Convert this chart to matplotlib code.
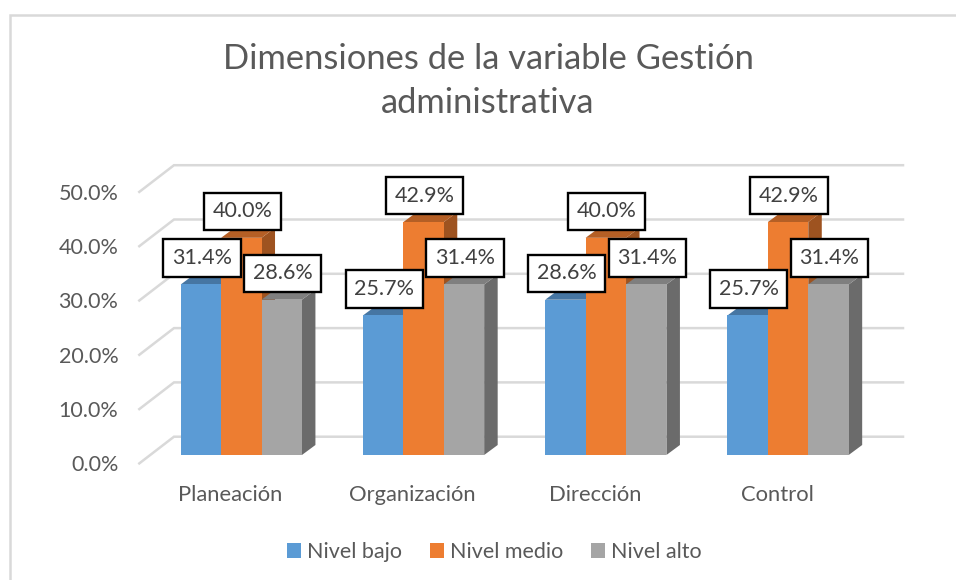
#!/usr/bin/env python
import matplotlib
matplotlib.use("Agg")
import matplotlib.pyplot as plt
from matplotlib.patches import Patch, Polygon, Rectangle

plt.rcParams['font.family'] = ['Lato', 'DejaVu Sans']

categories = ["Planeación", "Organización", "Dirección", "Control"]
series_names = ["Nivel bajo", "Nivel medio", "Nivel alto"]
bajo = [31.4, 25.7, 28.6, 25.7]
medio = [40.0, 42.9, 40.0, 42.9]
alto = [28.6, 31.4, 31.4, 31.4]

fronts = ["#5B9BD5", "#ED7D31", "#A5A5A5"]
tops = ["#4676A3", "#B55F25", "#7F7F7F"]
sides = ["#3F6A93", "#9E5320", "#6B6B6B"]
text_col = "#595959"
grid_col = "#D9D9D9"

W, H = 956, 580
# pixel box of the front edge of the floor/wall
LEFT, RIGHT, BOTTOM, TOP = 139.3, 868.3, 463.4, 191.9
PX_X = (RIGHT - LEFT) / 4.0
PX_Y = (BOTTOM - TOP) / 50.0


def dx(px):
    return px / PX_X


def dy(px):
    return px / PX_Y


def main():
    fig = plt.figure(figsize=(W / 100, H / 100), dpi=100)
    fig.patch.set_facecolor("white")
    ax = fig.add_axes([LEFT / W, 1 - BOTTOM / H, (RIGHT - LEFT) / W, (BOTTOM - TOP) / H])
    ax.set_xlim(-0.5, 3.5)
    ax.set_ylim(0, 50)
    ax.patch.set_visible(False)
    for s in ax.spines.values():
        s.set_visible(False)

    # chart frame
    fig.add_artist(Rectangle((9.5 / W, -0.2), 2, 0.2 + 1 - 14.5 / H, transform=fig.transFigure,
                             fill=False, edgecolor=grid_col, linewidth=1.8))

    # walls
    for v in [0, 10, 20, 30, 40, 50]:
        ax.plot([-0.5, -0.5 + dx(34.7), 3.5 + dx(34.7)], [v, v + dy(26.7), v + dy(26.7)],
                color=grid_col, lw=1.8, clip_on=False, zorder=1, solid_joinstyle="miter")

    ax.set_yticks([0, 10, 20, 30, 40, 50])
    ax.set_yticklabels(["%.1f%%" % v for v in [0, 10, 20, 30, 40, 50]])
    ax.set_xticks(range(len(categories)))
    ax.set_xticklabels(categories)
    ax.tick_params(axis="y", length=0, pad=15, labelsize=15.5, labelcolor=text_col)
    ax.tick_params(axis="x", length=0, pad=15.5, labelsize=15.8, labelcolor=text_col)

    # bars
    width = 40.4 / PX_X
    off_x, off_y = dx(10.9), dy(8.4)
    dep_x, dep_y = dx(13.5), dy(10)
    z = 2
    for g in range(len(categories)):
        for k, vals in enumerate([bajo, medio, alto]):
            v = vals[g]
            left = g + (k - 1.5) * width + off_x
            right = left + width
            top = v + off_y
            ax.add_patch(Polygon([(right, off_y), (right + dep_x, off_y + dep_y),
                                  (right + dep_x, top + dep_y), (right, top)],
                                 facecolor=sides[k], edgecolor="none", zorder=z, clip_on=False))
            ax.add_patch(Polygon([(left, top), (left + dep_x, top + dep_y),
                                  (right + dep_x, top + dep_y), (right, top)],
                                 facecolor=tops[k], edgecolor="none", zorder=z, clip_on=False))
            ax.bar(left, v, width=width, bottom=off_y, align="edge", color=fronts[k],
                   zorder=z, clip_on=False)
            z += 1

    # data labels on top of everything
    for g in range(len(categories)):
        for k, vals in enumerate([bajo, medio, alto]):
            v = vals[g]
            cx = g + (k - 1) * width + off_x
            ax.annotate("%.1f%%" % v, (cx, v + off_y), xytext=(0.7, 19), textcoords="offset points",
                        ha="center", va="center", fontsize=15.5, color="#404040", zorder=50 + k,
                        bbox=dict(boxstyle="square,pad=0.4", facecolor="white",
                                  edgecolor="black", linewidth=1.7))

    fig.text(488 / W, 1 - 59 / H, "Dimensiones de la variable Gestión", ha="center", va="center",
             fontsize=24.8, color=text_col)
    fig.text(488 / W, 1 - 103 / H, "administrativa", ha="center", va="center",
             fontsize=24.8, color=text_col)

    handles = [Patch(facecolor=c, edgecolor="none") for c in fronts]
    fig.legend(handles, series_names, ncol=3, loc="center", bbox_to_anchor=(494 / W, 1 - 552 / H),
               frameon=False, fontsize=15.5, labelcolor=text_col, handlelength=0.65, handleheight=0.65,
               handletextpad=0.28, columnspacing=1.3)

    fig.savefig("out.png", dpi=100)


if __name__ == '__main__':
    main()
